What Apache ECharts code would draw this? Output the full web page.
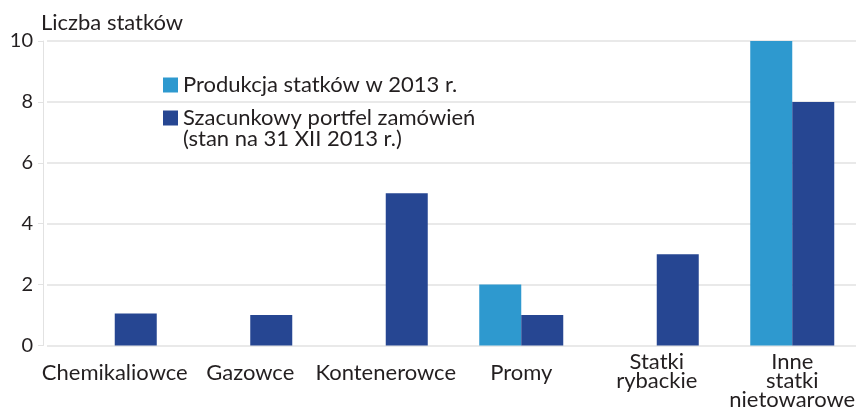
<!DOCTYPE html>
<html><head><meta charset="utf-8">
<script src="https://cdn.jsdelivr.net/npm/echarts@6/dist/echarts.min.js"></script>
<style>html,body{margin:0;padding:0;background:#fff;overflow:hidden}#c{width:860px;height:411px}</style>
</head><body><div id="c"></div>
<script>
const categories = ['Chemikaliowce', 'Gazowce', 'Kontenerowce', 'Promy', 'Statki\nrybackie', 'Inne\nstatki\nnietowarowe'];
const production2013 = [0, 0, 0, 2, 0, 10];
const orderBook = [1.05, 1.0, 5.0, 1.0, 3.0, 8.0];
const yTicks = [0, 2, 4, 6, 8, 10];
const seriesNames = ['Produkcja statków w 2013 r.', 'Szacunkowy portfel zamówień'];
const legendSecondLine = '(stan na 31 XII 2013 r.)';
const yTitle = 'Liczba statków';

const FONT = 'Lato';
const TXT = '#231f20';
const chart = echarts.init(document.getElementById('c'));
chart.setOption({
  animation: false,
  textStyle: { fontFamily: FONT },
  title: { text: yTitle, left: 41, top: 12, padding: 0, textStyle: { fontFamily: FONT, fontSize: 22, fontWeight: 'normal', color: TXT } },
  legend: {
    orient: 'vertical', left: 163, top: 74, padding: 0, itemWidth: 15, itemHeight: 15, itemGap: 11,
    icon: 'rect',
    textStyle: { fontFamily: FONT, fontSize: 22, color: TXT },
    data: seriesNames
  },
  graphic: [{ type: 'text', left: 183, top: 128, style: { text: legendSecondLine, font: '22px ' + FONT, fill: TXT } }],
  grid: { left: 47, right: 0, top: 41, bottom: 64, containLabel: false },
  xAxis: {
    type: 'category',
    data: categories.map(c => c.indexOf('\n') < 0 ? { value: c, textStyle: { padding: [11, 0, 0, 0] } } : c),
    axisLine: { show: false }, axisTick: { show: false },
    axisLabel: { interval: 0, margin: 7, fontFamily: FONT, fontSize: 22, color: TXT, lineHeight: 19 }
  },
  yAxis: {
    type: 'value', min: yTicks[0], max: yTicks[yTicks.length - 1], interval: 2, offset: 4,
    axisLine: { show: true, lineStyle: { color: '#e2e2e2' } },
    axisTick: { show: true, length: 5, lineStyle: { color: '#e2e2e2' } },
    splitLine: { lineStyle: { color: '#e2e2e2', width: 1.5 } },
    axisLabel: { margin: 10, fontFamily: FONT, fontSize: 20, color: TXT }
  },
  series: [
    { name: seriesNames[0], type: 'bar', data: production2013, barWidth: 42, barGap: '0%', itemStyle: { color: '#2e99cf' } },
    { name: seriesNames[1], type: 'bar', data: orderBook, barWidth: 42, barGap: '0%', itemStyle: { color: '#264692' } }
  ]
});
</script></body></html>
